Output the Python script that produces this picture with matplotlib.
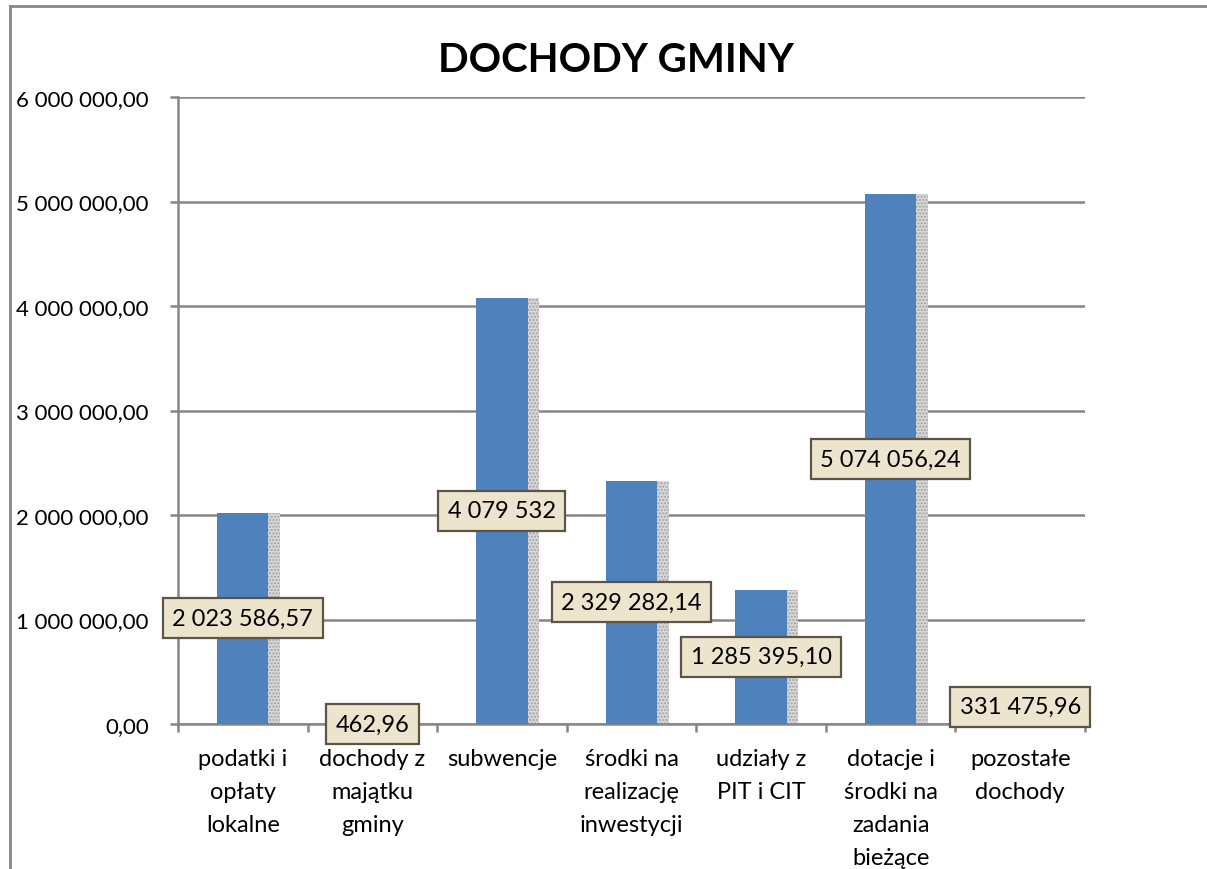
import numpy as np
import matplotlib.pyplot as plt
from matplotlib.lines import Line2D

plt.rcParams['font.family'] = ['Lato', 'DejaVu Sans']

categories = ['podatki i\nopłaty\nlokalne', 'dochody z\nmajątku\ngminy', 'subwencje',
              'środki na\nrealizację\ninwestycji', 'udziały z\nPIT i CIT',
              'dotacje i\nśrodki na\nzadania\nbieżące', 'pozostałe\ndochody']
values = [2023586.57, 462.96, 4079532, 2329282.14, 1285395.10, 5074056.24, 331475.96]
decimals = [2, 2, 0, 2, 2, 2, 2]
yticks = [0, 1000000, 2000000, 3000000, 4000000, 5000000, 6000000]


def pl_format(v, nd=2):
    s = f'{v:,.{nd}f}'
    return s.replace(',', ' ').replace('.', ',')


fig = plt.figure(figsize=(12.07, 8.7), dpi=100)
ax = fig.add_axes([178/1207, 145/870, 907/1207, 627/870])

x = np.arange(len(values))
# shadow behind bars
ax.bar(x + 0.09, values, width=0.395, color='#d8d8d8', hatch='.....',
       edgecolor='#a0a0a0', linewidth=0, zorder=2)
bars = ax.bar(x, values, width=0.395, color='#4f81bd', zorder=3)

labels = [pl_format(v, d) for v, d in zip(values, decimals)]
ax.bar_label(bars, labels=labels, label_type='center', fontsize=17, zorder=5,
             bbox=dict(boxstyle='square,pad=0.4', facecolor='#ede4cd',
                       edgecolor='#5c5446', linewidth=1.6))

ax.set_xlim(-0.5, len(values) - 0.5)
ax.set_ylim(0, 6000000)
ax.set_yticks(yticks)
ax.set_yticklabels([pl_format(t) for t in yticks], fontsize=16)
ax.yaxis.grid(True, color='#868686', linewidth=1.8, zorder=0)
ax.set_axisbelow(True)

ax.set_xticks(x)
ax.set_xticklabels(categories, fontsize=17, linespacing=1.72, va='top')
ax.set_xticks(np.arange(len(values) + 1) - 0.5, minor=True)
ax.tick_params(axis='x', which='major', length=0, pad=17)
ax.tick_params(axis='x', which='minor', length=6, width=1.8, color='#868686')
ax.tick_params(axis='y', length=6, width=1.8, color='#868686', pad=15)

for s in ['top', 'right']:
    ax.spines[s].set_visible(False)
for s in ['left', 'bottom']:
    ax.spines[s].set_color('#868686')
    ax.spines[s].set_linewidth(1.8)

fig.text(616/1207, 1 - 61/870, 'DOCHODY GMINY', fontsize=29, fontweight='bold',
         ha='center', va='center')

# outer chart frame
fig.add_artist(Line2D([10/1207, 10/1207], [0, 1 - 7/870], color='#888888', linewidth=2))
fig.add_artist(Line2D([10/1207, 1], [1 - 7/870, 1 - 7/870], color='#888888', linewidth=2))

fig.savefig('out.png', dpi=100)
